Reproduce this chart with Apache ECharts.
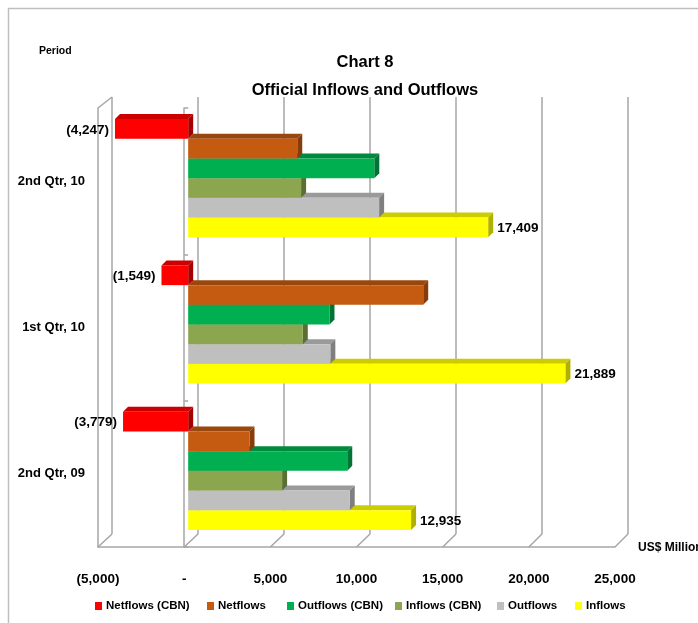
<!DOCTYPE html>
<html>
<head>
<meta charset="utf-8">
<script src="https://cdn.jsdelivr.net/npm/echarts@6/dist/echarts.min.js"></script>
<style>
  html, body { margin: 0; padding: 0; background: #fff; }
  #chart { width: 698px; height: 623px; }
</style>
</head>
<body>
<div id="chart"></div>
<script>
// Periods (top to bottom) and the six flow series, US$ million
const categories = ['2nd Qtr, 10', '1st Qtr, 10', '2nd Qtr, 09'];
const netflowsCBN = [-4247, -1549, -3779];
const netflows = [6329, 13639, 3560];
const outflowsCBN = [10800, 8200, 9230];
const inflowsCBN = [6553, 6651, 5451];
const outflows = [11080, 8250, 9375];
const inflows = [17409, 21889, 12935];
const xTicks = [-5000, 0, 5000, 10000, 15000, 20000, 25000];

const FONT = '"Liberation Sans", Arial, sans-serif';
const GRID_LINE = '#A6A6A6';

// front plane (axis labels, floor edge), back wall (gridlines), bar plane
const FRONT = { left: 98, right: 83, top: 108, bottom: 76 };
const BACK = { left: 112, right: 70, top: 97, bottom: 89 };
const BARS = { left: 102, right: 79, top: 105, bottom: 79 };
const CAT_GAP = 0.193;
const DEPTH = 5;

const seriesDefs = [
  { name: 'Netflows (CBN)', data: netflowsCBN, front: '#FF0000', top: '#CC0000', side: '#A80000', label: 'left' },
  { name: 'Netflows', data: netflows, front: '#C55A11', top: '#9A470D', side: '#863D0B', label: null },
  { name: 'Outflows (CBN)', data: outflowsCBN, front: '#00B050', top: '#008A3E', side: '#007435', label: null },
  { name: 'Inflows (CBN)', data: inflowsCBN, front: '#8CA64F', top: '#6E833D', side: '#5C6E33', label: null },
  { name: 'Outflows', data: outflows, front: '#BFBFBF', top: '#9A9A9A', side: '#7F7F7F', label: null },
  { name: 'Inflows', data: inflows, front: '#FFFF00', top: '#CCCC00', side: '#B0B000', label: 'right' }
];
const N = seriesDefs.length;

function fmt(v) {
  if (v === 0) return '-';
  const s = Math.abs(v).toLocaleString('en-US');
  return v < 0 ? '(' + s + ')' : s;
}

function makeSeries(def, idx) {
  return {
    type: 'custom',
    name: def.name,
    xAxisIndex: 2,
    yAxisIndex: 3,
    z: 10 + (N - idx),
    itemStyle: { color: def.front },
    encode: { x: 0, y: 1 },
    data: def.data.map((v, j) => [v, j]),
    renderItem(params, api) {
      const v = api.value(0), j = api.value(1);
      const p0 = api.coord([0, j]);
      const p1 = api.coord([v, j]);
      const band = api.size([0, 1])[1];
      const groupH = band * (1 - CAT_GAP);
      const h = groupH / N;
      const y0 = p0[1] - groupH / 2 + idx * h;
      const xl = Math.min(p0[0], p1[0]);
      const xr = Math.max(p0[0], p1[0]);
      const d = DEPTH;
      const children = [
        { type: 'polygon', shape: { points: [[xl, y0], [xr, y0], [xr + d, y0 - d], [xl + d, y0 - d]] }, style: { fill: def.top } },
        { type: 'polygon', shape: { points: [[xr, y0], [xr + d, y0 - d], [xr + d, y0 + h - d], [xr, y0 + h]] }, style: { fill: def.side } },
        { type: 'rect', shape: { x: xl, y: y0, width: xr - xl, height: h }, style: { fill: def.front } }
      ];
      if (def.label) {
        const left = def.label === 'left';
        children.push({
          type: 'text',
          style: {
            text: fmt(v),
            x: left ? xl - 6 : xr + 9,
            y: y0 + h / 2 + 1,
            align: left ? 'right' : 'left',
            verticalAlign: 'middle',
            fontFamily: FONT,
            fontWeight: 'bold',
            fontSize: 13.5,
            fill: '#000'
          }
        });
      }
      return { type: 'group', children };
    }
  };
}

const legendLefts = [95, 207, 287, 395, 497, 575];

const option = {
  animation: false,
  backgroundColor: '#fff',
  title: {
    text: 'Chart 8\nOfficial Inflows and Outflows',
    left: 360,
    top: 43,
    textAlign: 'center',
    textStyle: { fontFamily: FONT, fontWeight: 'bold', fontSize: 16.5, lineHeight: 28, color: '#000' }
  },
  legend: seriesDefs.map((s, i) => ({
    data: [s.name],
    left: legendLefts[i],
    top: 600,
    padding: 0,
    icon: 'rect',
    itemWidth: 7,
    itemHeight: 8,
    itemGap: 0,
    selectedMode: false,
    textStyle: { fontFamily: FONT, fontWeight: 'bold', fontSize: 11.5, color: '#000', padding: [0, 0, 0, -1] }
  })),
  grid: [
    Object.assign({ containLabel: false }, FRONT),
    Object.assign({ containLabel: false }, BACK),
    Object.assign({ containLabel: false }, BARS)
  ],
  xAxis: [
    {
      gridIndex: 0, type: 'value', min: -5000, max: 25000, interval: 5000,
      axisLine: { show: true, onZero: false, lineStyle: { color: GRID_LINE, width: 1.5 } },
      axisTick: { show: false },
      splitLine: { show: false },
      axisLabel: { margin: 25, formatter: fmt, fontFamily: FONT, fontWeight: 'bold', fontSize: 13.5, color: '#000' }
    },
    {
      gridIndex: 1, type: 'value', min: -5000, max: 25000, interval: 5000,
      axisLine: { show: false }, axisTick: { show: false }, axisLabel: { show: false },
      splitLine: { show: true, lineStyle: { color: GRID_LINE, width: 1.5 } }
    },
    {
      gridIndex: 2, type: 'value', min: -5000, max: 25000, interval: 5000, show: false
    }
  ],
  yAxis: [
    {
      gridIndex: 0, type: 'category', data: categories, inverse: true,
      axisLine: { show: true, onZero: false, lineStyle: { color: GRID_LINE, width: 1.5 } },
      axisTick: { show: false },
      axisLabel: { margin: 13, padding: [7, 0, 0, 0], fontFamily: FONT, fontWeight: 'bold', fontSize: 13, color: '#000' }
    },
    {
      gridIndex: 0, type: 'category', data: categories, inverse: true,
      axisLine: { show: true, onZero: true, onZeroAxisIndex: 0, lineStyle: { color: GRID_LINE, width: 1.5 } },
      axisTick: { show: true, length: 4, lineStyle: { color: GRID_LINE, width: 1.5 } },
      axisLabel: { show: false }
    },
    { gridIndex: 1, type: 'category', data: categories, inverse: true, show: false },
    { gridIndex: 2, type: 'category', data: categories, inverse: true, show: false }
  ],
  series: seriesDefs.map(makeSeries)
};

const chart = echarts.init(document.getElementById('chart'), null, { renderer: 'canvas' });
chart.setOption(option);

// 3-D frame: floor diagonals joining front ticks to the back wall, left wall top edge,
// outer chart border and the two small captions
const frontBottom = 623 - FRONT.bottom;
const backBottom = 623 - BACK.bottom;
const graphics = [];
xTicks.forEach(v => {
  const xf = chart.convertToPixel({ xAxisIndex: 0 }, v);
  const xb = chart.convertToPixel({ xAxisIndex: 1 }, v);
  graphics.push({
    type: 'line', z: 1,
    shape: { x1: xf, y1: frontBottom, x2: xb, y2: backBottom },
    style: { stroke: GRID_LINE, lineWidth: 1.5 }
  });
});
const xfl = chart.convertToPixel({ xAxisIndex: 0 }, xTicks[0]);
const xbl = chart.convertToPixel({ xAxisIndex: 1 }, xTicks[0]);
graphics.push({
  type: 'line', z: 1,
  shape: { x1: xfl, y1: FRONT.top, x2: xbl, y2: BACK.top },
  style: { stroke: GRID_LINE, lineWidth: 1.5 }
});
graphics.push({
  type: 'polyline', z: 1,
  shape: { points: [[8.5, 623], [8.5, 8.5], [698, 8.5]] },
  style: { stroke: '#BFBFBF', lineWidth: 1.5, fill: null }
});
graphics.push({
  type: 'text', z: 5,
  style: { text: 'Period', x: 39, y: 51, verticalAlign: 'middle', fontFamily: FONT, fontWeight: 'bold', fontSize: 10.5, fill: '#000' }
});
graphics.push({
  type: 'text', z: 5,
  style: { text: 'US$ Million', x: 638, y: 548, verticalAlign: 'middle', fontFamily: FONT, fontWeight: 'bold', fontSize: 12, fill: '#000' }
});
chart.setOption({ graphic: graphics });
</script>
</body>
</html>
